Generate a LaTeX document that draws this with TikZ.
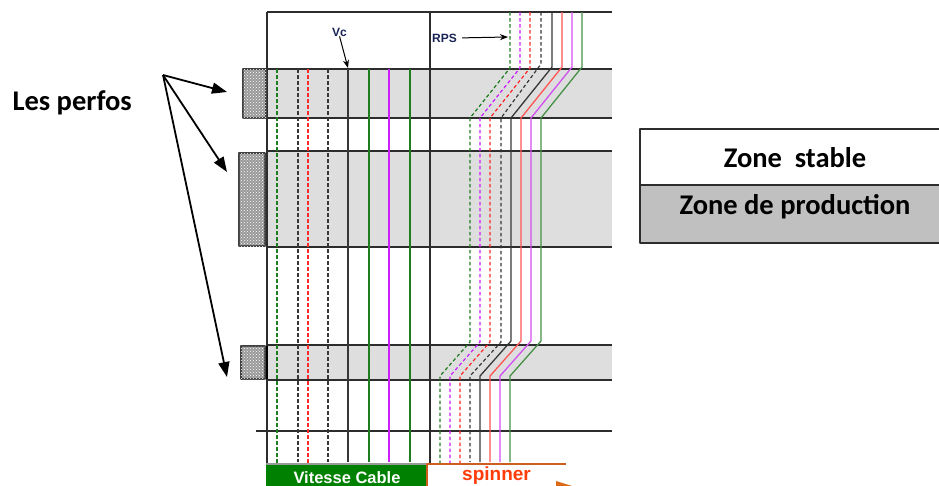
\documentclass[tikz,border=0pt]{standalone}
\usepackage{fontspec}
\usetikzlibrary{arrows.meta,patterns}
\newfontfamily\calib{Carlito}
\newfontfamily\arialf{Liberation Sans}
\definecolor{bandgray}{RGB}{222,222,222}
\definecolor{gridc}{RGB}{45,45,45}
\definecolor{dgreen}{RGB}{30,125,30}
\definecolor{dred}{RGB}{255,40,40}
\definecolor{dmag}{RGB}{204,30,255}
\definecolor{dblack}{RGB}{55,55,55}
\definecolor{lred}{RGB}{255,85,85}
\definecolor{lmag}{RGB}{210,80,240}
\definecolor{lgreen}{RGB}{70,145,70}
\definecolor{prodgray}{RGB}{192,192,192}
\definecolor{vgreen}{RGB}{0,128,0}
\definecolor{spin}{RGB}{255,60,10}
\definecolor{spinline}{RGB}{205,95,30}
\definecolor{navy}{RGB}{25,35,85}
\begin{document}
\begin{tikzpicture}[x=1pt,y=-1pt,line join=round,
  grid/.style={draw=gridc,line width=1.3pt},
  dsh/.style={dash pattern=on 3.5pt off 2.5pt,line width=1.2pt},
  sol/.style={line width=1.3pt},
  perfo/.style={draw=black!75,line width=1.2pt,fill=black!40,inner sep=0pt,
    postaction={pattern=crosshatch dots,pattern color=white}},
  bigarrow/.style={-{Triangle[length=15pt,width=11pt]},line width=1.8pt},
  smallarrow/.style={-{Stealth[length=8pt,width=6pt]},line width=1pt},
  boxtxt/.style={font=\calib\bfseries\fontsize{28.5}{30}\selectfont,inner sep=0pt},
  smalltxt/.style={font=\arialf\bfseries\fontsize{12}{14}\selectfont,text=navy,inner sep=0pt},
  zonebox/.style={draw=gridc,line width=1.4pt,minimum width=310pt,inner sep=0pt}
]
\useasboundingbox (0,0) rectangle (939,485);
\clip (0,0) rectangle (939,485);

% bands
\fill[bandgray] (267,69) rectangle (612,118);
\fill[bandgray] (267,151) rectangle (612,247);
\fill[bandgray] (267,345) rectangle (612,380);

% grid
\foreach \yy in {69,118,151,247,345,380} \draw[grid] (267,\yy) -- (612,\yy);
\draw[grid] (256,431) -- (612,431);
\draw[grid] (267,12) -- (612,12);
\draw[grid] (267,12) -- (267,464);
\draw[grid] (430,12) -- (430,464);
\draw[line width=2.5pt,black] (267,346) -- (267,379);

% left lines
\draw[dsh,dgreen] (277,69) -- (277,463);
\draw[dsh,dblack] (298,69) -- (298,462);
\draw[dsh,dred] (308,69) -- (308,463);
\draw[dsh,dblack] (328,69) -- (328,462);
\draw[sol,dblack] (348,69) -- (348,462);
\draw[sol,dgreen] (369,69) -- (369,462);
\draw[sol,dmag] (389,69) -- (389,462);
\draw[sol,dgreen] (410,69) -- (410,462);

% right lines
\draw[dsh,dgreen] (510,12) -- (510,68) -- (470,118) -- (470,342) -- (440,376) -- (440,464);
\draw[dsh,dmag] (520,12) -- (520,68) -- (480,118) -- (480,342) -- (450,376) -- (450,464);
\draw[dsh,dred] (530,12) -- (530,68) -- (490,118) -- (490,342) -- (460,376) -- (460,464);
\draw[dsh,dblack] (541,12) -- (541,64) -- (501,118) -- (501,342) -- (470,376) -- (470,462);
\draw[sol,dblack] (552,12) -- (552,67) -- (511,118) -- (511,341) -- (480,376) -- (480,462);
\draw[sol,lred] (562,12) -- (562,67) -- (521,118) -- (521,341) -- (490,376) -- (490,462);
\draw[sol,lmag] (572,12) -- (572,67) -- (531,118) -- (531,341) -- (500,376) -- (500,462);
\draw[sol,lgreen] (582,12) -- (582,67) -- (541,118) -- (541,341) -- (510,376) -- (510,462);

% perforations
\node[perfo,minimum width=23pt,minimum height=49pt] (p1) at (254.5,93.5) {};
\node[perfo,minimum width=26pt,minimum height=93pt] (p2) at (252,199.5) {};
\node[perfo,minimum width=24pt,minimum height=33pt] (p3) at (253,362.5) {};

\node[boxtxt,anchor=base east] (lp) at (132,110) {Les perfos};
\coordinate (lo) at (163,75);
\coordinate (t1) at (227,92);
\coordinate (t2) at (227,172);
\coordinate (t3) at (227,377);
\draw[bigarrow] (lo) -- (t1);
\draw[bigarrow] (lo) -- (t2);
\draw[bigarrow] (lo) -- (t3);

% labels Vc and RPS
\node[smalltxt,anchor=base west] (vc) at (332,36) {Vc};
\coordinate (vctip) at (348,68);
\draw[smallarrow] (vc.south) -- (vctip);
\node[smalltxt,anchor=base west] (rps) at (432,42) {RPS};
\coordinate (rpstip) at (508,37);
\draw[smallarrow] ([xshift=5pt]rps.east) -- (rpstip);

% zone table
\node[zonebox,fill=white,minimum height=56pt] (zs) at (795,157) {};
\node[zonebox,fill=prodgray,minimum height=58pt] (zp) at (795,214) {};
\node[boxtxt,anchor=base] (zst) at (795,167) {Zone\ \ stable};
\node[boxtxt,anchor=base] (zpt) at (795,214) {Zone de production};

% bottom labels
\node[fill=vgreen,minimum width=161pt,minimum height=30pt,inner sep=0pt,anchor=north west] (vbox) at (266,465) {};
\draw[line width=2.5pt,black!40] (266,464) -- (427,464);
\node[anchor=base,text=white,inner sep=0pt,font=\arialf\bfseries\fontsize{16.5}{18}\selectfont] (vt) at (347,483) {Vitesse Cable};
\draw[spinline,line width=1.2pt] (427,495) -- (427,464) -- (566,464);
\node[anchor=base west,text=spin,inner sep=0pt,font=\arialf\bfseries\fontsize{19}{21}\selectfont] (sp) at (462,480.5) {spinner};
\fill[spinline!70!orange] (556,481) -- (572,486) -- (556,491) -- cycle;
\end{tikzpicture}
\end{document}
